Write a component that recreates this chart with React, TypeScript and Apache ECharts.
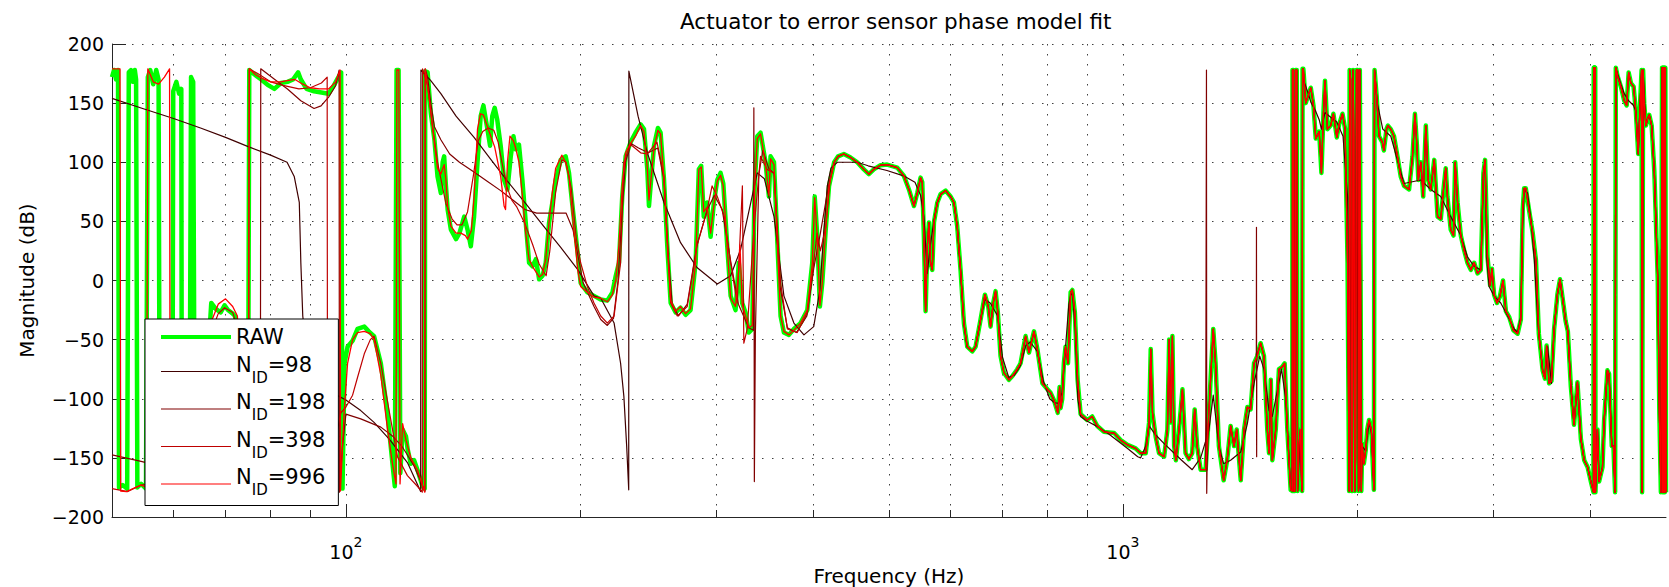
import React, { useEffect, useRef } from "react";
import * as echarts from "echarts";

type Pt = [number, number];

const FONT = "'DejaVu Sans', sans-serif";

// ---- axes ----
const X_MIN = 50;
const X_MAX = 5000;
const Y_MIN = -200;
const Y_MAX = 200;
const Y_STEP = 50;
const X_GRID_TICKS = [60, 70, 80, 90, 100, 200, 300, 400, 500, 600, 700, 800, 900, 1000, 2000, 3000, 4000];
const X_LABEL_TICKS = [100, 1000];

// ---- series meta ----
const SERIES_NAMES = ["RAW", "N_ID=98", "N_ID=198", "N_ID=398", "N_ID=996"];
const SERIES_COLORS = ["#00ff00", "#400000", "#800000", "#bf0000", "#ff0000"];

// ---- data: [frequency Hz, phase deg] ----
const RAW_LOW: Pt[] = [
  [50, 172], [50.3, 178], [50.6, 170], [50.9, 178], [51.05, -175], [51.6, -173], [52.3, -176], [52.55, 176], [52.9, 178], [53.2, 168], [53.5, 178], [53.7, 170], [53.9, -175], [54.5, -172], [55.3, -176], [55.6, 172], [56.0, 178], [56.5, 166], [57.0, 178], [57.4, 170], [57.6, -175], [59.0, -174], [59.8, -175], [59.95, 160], [60.5, 168], [61.0, 158], [61.4, 162], [61.5, -175], [62.9, -175], [63.2, 172], [63.6, 168], [63.9, -175],
  [65, -165], [66, -120], [66.8, -40], [67.1, -19], [68, -24], [69, -27], [69.8, -21], [70.5, -25], [71.5, -28], [72, -30], [72.8, -80], [73.8, -150], [74.8, -177], [75.1, 178],
  [76, 175], [77.8, 170], [79.5, 165], [80.9, 162], [82.5, 167], [84.1, 168], [85.5, 170], [86.8, 176], [87.5, 170], [89, 162], [91, 160], [93, 159], [95, 158], [96.5, 165], [97.8, 172], [98.6, 176], [99.0, -176],
  [99.6, -70], [100.5, -56], [102, -51], [103.5, -41], [105.6, -39], [107, -43], [108.7, -47], [110.9, -70], [113.1, -112], [114.8, -155], [115.6, -174], [116.2, 178], [116.9, 178], [117.5, -163], [118.3, -126], [119.5, -132], [120.1, -143], [121.2, -155], [122.4, -152], [123.6, -160], [125.5, -174], [126.3, -176], [126.5, 177],
  [127.4, 176], [128.6, 142], [130, 119], [131.2, 88], [132.5, 74], [133.2, 100], [133.8, 105], [134.5, 80], [135.2, 60], [136.5, 43], [138.6, 35], [140, 40], [142, 54], [143.4, 43], [144.8, 29], [146.2, 54], [147.7, 100], [149.1, 139], [150.3, 148], [152.1, 128], [153.3, 114], [154.3, 139], [155.4, 146], [156.6, 136], [158.2, 114], [159.8, 85], [161.4, 77], [163, 105], [164.3, 122], [165.4, 111], [167, 115], [168.7, 85], [170.4, 49], [172.1, 15], [173.8, 12], [175.6, 18], [177.3, 1], [179.1, 4], [180.8, 15], [182.6, 49], [184.4, 66], [186.2, 85], [189, 102], [191.8, 105], [193.7, 91], [195.7, 63], [198.9, 21], [200.5, -2], [204.5, -10], [208.6, -13], [212.8, -16],
  [217, -17], [220.3, -10], [222.5, 4], [224.6, 15], [226.8, 71], [229.1, 105], [232.5, 117], [235.9, 125], [239.5, 132], [241.9, 128], [244.3, 94], [245.5, 63], [246.7, 80], [249.2, 114], [252.1, 129], [254.1, 125], [256.7, 85], [259.2, 29], [261.8, -19], [265.7, -27], [269.6, -23], [273.6, -29], [277.7, -25], [281.9, 15], [284.6, 94], [286.6, 97], [288.8, 54], [291.7, 66], [294.7, 37], [297.6, 66], [300.6, 85], [303.5, 91], [306, 82], [309.6, 29], [312.7, -13], [317.3, -25], [320.4, 15], [323.6, -19], [326.8, -27], [330.1, -44], [333.4, -41], [335.7, 77], [338.4, 122], [341.7, 125], [344.5, 111], [346.8, 100], [350.3, 71], [352, 105], [355.6, 100], [359.2, 32], [362.6, -30], [366.2, -44], [371.7, -46], [377.2, -41], [384.7, -36], [392.5, -25], [398.3, 15], [401.2, 71], [404.3, 37], [407.4, -22], [410.3, -2], [414.5, 43], [418.6, 80], [425, 100], [430, 105],
];

// high-frequency track that RAW and the 198/398/996 fits all follow
const HIGH_COMMON: Pt[] = [
  [437.4, 107], [446.2, 104], [455.1, 100], [464.1, 94], [471, 90], [478, 94], [487.6, 97.5], [497.3, 98], [512.4, 95.5], [522.6, 88.5], [530.4, 77], [538.4, 63], [543.7, 74], [549, 87], [551.8, 83], [554.5, 37], [557.3, -26], [560.1, 29], [562.8, 49], [565.5, 15], [568.4, 9], [571.2, 49], [577, 66], [582.6, 73], [591.4, 76], [600.1, 71], [606.1, 66], [612, 46], [618.1, 9], [624.3, -36], [630.5, -56], [639.9, -60], [646.3, -56], [655.9, -33], [664.4, -12], [671, -22], [675.6, -39], [681, -19], [685.7, -9], [690.3, -27], [695.9, -64], [702.8, -78], [713.4, -84], [720.5, -81], [731.3, -75], [738.4, -70], [749.5, -47], [757, -61], [768.4, -43], [776.1, -58], [787.8, -87], [799.6, -92], [807.1, -95], [815, -101], [824.5, -112], [829, -90], [831.4, -108], [835.5, -100], [839.5, -70], [843.7, -56], [849.8, -70], [856.5, -10], [860.9, -8], [867.3, -27], [874.4, -84], [882.2, -113],
  [899.6, -118], [913.1, -115], [926.9, -123], [945.5, -128], [974.3, -129], [993.4, -135], [1013.7, -139], [1038.3, -142], [1054, -146], [1070, -146], [1080.8, -120], [1086, -58], [1091.7, -112], [1102, -132], [1113, -146], [1130, -149], [1141, -126], [1147, -50], [1152, -120], [1158, -47], [1164, -140], [1170, -152], [1181, -126], [1193, -92], [1204, -146], [1216, -151], [1228, -146], [1237, -109], [1246, -140], [1259, -160], [1278, -160], [1290, -112], [1307, -41], [1316, -70], [1329, -140], [1348, -169], [1362, -152], [1376, -123], [1390, -140], [1401, -126], [1418, -169], [1432, -126], [1446, -107], [1460, -109], [1475, -70], [1489, -64], [1504, -53], [1519, -64], [1534, -126], [1542, -146], [1550, -84], [1557, -152], [1573, -126], [1588, -75], [1604, -73], [1615, -70], [1628, -126], [1644, -177],
  [1652, -178], [1653, 178], [1658, 178], [1660, -178], [1665, -178], [1668, 178], [1674, 178], [1678, -178], [1685, -140], [1692, -126], [1698, -170], [1701, -178], [1703, 179],
  [1707, 179], [1719, 150], [1731, 156], [1745, 163], [1759, 148], [1771, 120], [1789, 126], [1801, 91], [1812, 142], [1820, 169], [1833, 128], [1851, 131], [1866, 141], [1885, 121], [1898, 132], [1917, 141], [1932, 128], [1946, 15],
  [1955, -178], [1958, 178], [1964, 170], [1969, -178], [1974, -178], [1978, 178], [1983, 120], [1988, -178], [1993, -150], [1998, 178], [2007, 178], [2010, -178], [2016, -170], [2018, 178], [2022, 178], [2027, -178], [2032, -138], [2042, -155], [2053, -144], [2063, -126], [2074, -118], [2088, -126], [2104, -177], [2108, 178],
  [2121, 156], [2136, 122], [2157, 117], [2167, 110], [2184, 128], [2193, 131], [2212, 128], [2233, 122], [2256, 105], [2278, 88], [2301, 80], [2335, 77], [2359, 105], [2376, 141], [2390, 114], [2400, 85], [2418, 100], [2435, 71], [2454, 131], [2471, 85], [2490, 77], [2516, 102], [2541, 54], [2565, 52], [2586, 77], [2603, 95], [2616, 71], [2642, 43], [2664, 38], [2677, 100], [2696, 66], [2722, 38], [2748, 26], [2776, 15], [2804, 9], [2832, 15], [2860, 6], [2888, 9], [2911, 91], [2925, 102], [2946, 20], [2969, -4], [2985, 10], [3004, -12], [3030, -19], [3055, -14], [3085, 0], [3111, -26], [3142, -31], [3180, -42], [3221, -45], [3252, -33], [3270, 60], [3284, 78], [3300, 78], [3333, 59], [3367, 41], [3401, 17], [3430, -45], [3469, -76], [3493, -83], [3510, -55], [3536, -87], [3561, -85], [3589, -41], [3624, -12], [3652, 1], [3677, -13], [3713, -34], [3738, -43], [3771, -89], [3807, -122], [3846, -86], [3885, -134], [3924, -152], [3964, -158], [4002, -170],
  [4033, -179], [4036, 180], [4039, -179], [4042, 180], [4045, -179], [4048, 180], [4051, -179], [4054, 180], [4057, -179], [4081, -126], [4101, -170], [4142, -158], [4162, -119], [4203, -76], [4224, -79], [4258, -140], [4279, -140], [4300, -179], [4309, 180],
  [4331, 173], [4374, 164], [4418, 152], [4450, 148], [4476, 176], [4506, 167], [4542, 164], [4573, 143], [4605, 107], [4632, 152], [4651, 178], [4658, -179], [4665, -179], [4672, 178], [4687, 150], [4711, 131], [4735, 137], [4758, 140], [4792, 131], [4830, 92], [4879, 2], [4903, -113], [4925, -179],
  [4942, 180], [4950, -179], [4958, 180], [4966, -179], [4974, 180], [4982, -179], [4990, 180], [5000, -179],
];

const FIT_98: Pt[] = [
  [50, 154], [55, 145], [60, 137], [65, 129], [70, 121], [75, 113], [80, 106], [84, 100], [85.8, 88], [87.1, 66], [87.5, 15], [88, -30], [89, -60], [91, -80], [95, -92], [98, -98], [100, -101], [104.5, -110], [108.7, -120], [114, -135], [120, -154], [124.8, -178.5], [124.9, 178],
  [128.6, 169], [132.5, 158], [138.6, 139], [146.2, 121], [153.8, 102], [161.4, 84], [170.4, 65], [179.1, 47], [189, 28], [198.9, 9], [208.6, -13], [212.8, -15], [221.4, -36], [225.7, -70], [227.9, -98], [229.8, -140], [231.2, -177], [231.3, 177],
  [237.7, 139], [244.3, 108], [256.7, 66], [269.6, 32], [283, 11], [300.6, -3], [312.7, 4], [322, 26], [332, 66], [338.4, 91], [345.6, 86], [355.6, 54], [366.2, -13], [377.2, -36], [388.6, -46], [400, -39], [407.4, -8], [412, 40], [416.5, 80], [421, 95], [429, 100],
  [446, 100], [455, 100], [470, 97], [497, 93], [522, 88.5], [540, 83], [549, 72], [554.5, 54], [560, 6], [565, 29], [571, 50], [577, 66], [583, 73], [591, 76], [600, 71], [606, 66], [612, 46], [618, 9], [624, -36], [630, -56], [640, -60], [646, -56], [656, -33], [664, -16], [675, -19], [690, -30], [700, -65], [713, -82], [725, -80], [738, -72], [750, -55], [760, -52], [776, -60], [790, -85], [805, -100], [815, -103], [825, -104], [835, -95], [844, -55], [852, -20], [857, -12], [861, -11], [868, -40], [875, -100], [882, -115],
  [900, -119], [930, -124], [960, -130], [1014, -142], [1045, -149], [1054, -150], [1070, -140], [1081, -123], [1100, -130], [1130, -138], [1160, -145], [1190, -152], [1228, -160], [1259, -150], [1290, -127], [1307, -97], [1329, -140], [1348, -155], [1376, -152], [1418, -145], [1446, -121], [1475, -87], [1500, -64], [1519, -75], [1542, -110], [1557, -115], [1573, -100], [1600, -75], [1620, -100], [1644, -177],
  [1652, -178], [1653, 178], [1658, 178], [1660, -178], [1665, -178], [1668, 178], [1674, 178], [1678, -178], [1690, -135], [1701, -178], [1703, 179],
  [1707, 170], [1728, 160], [1745, 151], [1771, 143], [1789, 136], [1801, 128], [1820, 142], [1851, 138], [1885, 134], [1920, 122], [1946, 71],
  [1955, -178], [1958, 178], [1969, -178], [1978, 178], [1988, -178], [1998, 178], [2010, -178], [2018, 178], [2027, -178], [2032, -140], [2053, -144], [2074, -120], [2090, -130], [2104, -177], [2108, 178],
  [2125, 150], [2160, 128], [2212, 122], [2300, 82], [2418, 85], [2490, 77], [2565, 71], [2642, 54], [2722, 38], [2776, 20], [2832, 12], [2888, 9], [2911, 91], [2925, 100], [2940, 18], [2960, -5], [3004, -13], [3064, -19], [3111, -27], [3189, -41], [3221, -44], [3252, -30], [3268, 43], [3284, 77], [3317, 74], [3350, 52], [3384, 18], [3425, -41], [3469, -76], [3493, -83], [3520, -56], [3561, -87], [3589, -41], [3624, -12], [3652, 1], [3677, -13], [3713, -34], [3738, -43], [3771, -89], [3807, -122], [3846, -86], [3885, -134], [3924, -152], [3964, -158], [4002, -170],
  [4033, -179], [4036, 180], [4054, 180], [4057, -179], [4081, -126], [4101, -170], [4142, -158], [4162, -119], [4203, -76], [4224, -79], [4258, -140], [4279, -140], [4300, -179], [4309, 180],
  [4331, 175], [4374, 166], [4418, 158], [4476, 152], [4542, 148], [4573, 143], [4605, 107], [4632, 152], [4651, 178], [4658, -179], [4665, -179], [4672, 178], [4711, 131], [4735, 137], [4758, 140], [4792, 131], [4830, 92], [4879, 2], [4903, -113], [4925, -179], [4942, 180], [4960, 180], [4970, -179], [4985, -179], [4995, 180], [5000, 180],
];

const LOW_198: Pt[] = [
  [50, -147.5], [54.5, -153], [60, -160], [66, -167], [72, -173], [77.6, -179], [77.7, 179], [81, 170], [84.1, 162], [87.5, 152], [91, 145.5], [92.9, 147.7], [95, 155], [97, 164.7], [98, 178], [98.1, -179],
  [99, -140], [100, -113], [104.5, -117], [110.9, -124], [115, -132], [118, -140], [120.1, -148], [122.4, -157], [124.5, -168], [126.4, -178.5], [126.5, 179],
  [127.4, 172], [128.6, 150], [130, 130], [132.5, 119], [136, 107], [140, 100], [146, 92], [152, 84], [158.2, 76], [164, 68], [170, 60], [176, 57], [184, 57], [192, 57], [196, 43], [202, -2], [208.6, -22], [212.8, -33],
  [217, -38], [221, -32], [224, 0], [226.8, 60], [229, 100], [232.5, 116], [238, 112], [245, 108], [252, 112], [256.7, 85], [260, 20], [263, -20], [268, -30], [275, -20], [283, 30], [292, 60], [298, 72], [305, 60], [313, 15], [320, -20], [330, -40], [334.5, -42], [335, 146], [335.5, -170], [336.5, -45], [340, 90], [344, 110], [350, 95], [356, 90], [362, -5], [370, -40], [380, -44], [392, -30], [400, 10], [408, 40], [418, 80], [425, 100], [430, 105],
];
const SPIKES_198: Pt[] = [
  [1280, -160], [1281, 178], [1282, -180], [1283.5, -156], [1485, -66], [1485.6, 45], [1486.4, -149], [1487, -64],
];

const LOW_398: Pt[] = [
  [50, -176], [52.4, -178.5], [54.5, -173], [58, -170], [62, -150], [65, -100], [67, -45], [68.5, -28], [69.8, -23], [71.5, -27], [72.5, -40], [73.5, -110], [74.9, -178], [75.1, 179],
  [77, 175], [80, 168], [83, 165], [87, 162], [90, 163], [93, 167], [94.6, 172], [94.7, -178],
  [96, -150], [98.5, -112], [100, -107], [102, -97], [103.5, -82], [105.6, -62], [107.5, -50], [108.7, -47], [110.9, -70], [113.8, -112], [116.5, -149], [120, -165], [123.6, -174], [125.4, -179], [125.5, 179],
  [127.4, 165], [129, 135], [131.2, 100], [134.5, 65], [137, 52], [139, 47], [141, 47], [143.4, 58], [146, 90], [148, 118], [150, 126], [152.5, 129], [155, 127], [157, 117], [159, 98], [161, 80], [163.5, 68], [166, 62], [170, 48], [174, 30], [177.3, 14], [181, 4], [183, 25], [186.2, 75], [189.6, 102], [192, 100], [195, 78], [198, 35], [200.5, 15], [204.5, -5], [208.6, -19], [212.8, -30],
  [217, -36], [221.4, -30], [225.7, 15], [227.9, 100], [232.5, 115], [239.5, 108], [244.3, 107], [251.4, 117], [256.7, 88], [261.8, -19], [267, -30], [275, -22], [283, 29], [291.7, 60], [296, 80], [300.6, 71], [306.9, 54], [312.7, 15], [318.8, -19], [323.3, 70], [323.8, 80], [325.2, -53], [328.5, -41], [335, 43], [341.7, 105], [348.3, 94], [355.6, 91], [362.6, -2], [370, -41], [381, -44], [392.5, -27], [400, 15], [404, 40], [408, 25], [414.5, 45], [420, 85], [425, 100], [430, 105],
];

const LOW_996: Pt[] = [
  [50, 179], [51.2, 179], [51.3, -178], [52.2, -178.5], [53.2, -176], [54.5, -173], [55.4, -175], [55.6, 179], [56.5, 168], [57.4, 166], [58.4, 172], [59.3, 179], [59.4, -178], [62, -176], [64.5, -172], [66, -120], [67, -36], [68.5, -20], [70, -15.5], [71.5, -22], [72.5, -30], [73.5, -100], [74.9, -178], [75.1, 179],
  [76.5, 174], [78, 171], [80, 168], [82.5, 168], [84, 169], [86, 170], [88, 166], [90, 163], [92.5, 162], [95, 162], [97, 168], [98.3, 178], [98.4, -178],
  [99.5, -110], [100.5, -70], [102, -50], [103.5, -44], [105.6, -43], [107.5, -45], [108.7, -50], [110.9, -80], [113.1, -125], [114.8, -155], [116, -172], [116.3, 178], [117, 178], [117.4, -172], [118.3, -121], [119.5, -135], [121.2, -150], [123.6, -160], [126.3, -179], [126.5, 179],
  [127.9, 156], [129.5, 125], [131.2, 95], [132.5, 90], [133.8, 98], [134.5, 85], [135.2, 62], [136.5, 46], [138.6, 40], [140.6, 40], [142.5, 38], [143.4, 35], [145, 42], [146.2, 70], [147.7, 128], [149, 141], [150.3, 140], [152.1, 130], [155.4, 113], [158.2, 88], [159.8, 63], [160.5, 60], [161.4, 100], [162.6, 122], [164.3, 118], [165.4, 112], [167, 100], [168.7, 72], [170.4, 40], [172.1, 18], [173.8, 12], [177.3, 3], [179.1, 5], [180.8, 18], [182.6, 50], [184.4, 75], [186.2, 95], [189.6, 106], [191.8, 100], [193.7, 88], [195.7, 55], [198.9, 8], [200.5, -5], [204.5, -10], [208.6, -14], [212.8, -15],
  [217, -18], [220.3, -12], [222.5, 0], [224.6, 30], [226.8, 80], [229.1, 108], [232.5, 116], [235.9, 122], [239.5, 131], [241.9, 126], [244.3, 95], [245.5, 68], [246.7, 82], [249.2, 112], [252.1, 127], [254.1, 124], [256.7, 85], [259.2, 30], [261.8, -17], [265.7, -26], [269.6, -22], [273.6, -28], [277.7, -24], [281.9, 15], [284.6, 94], [286.6, 96], [288.8, 58], [291.7, 62], [294.7, 40], [297.6, 64], [300.6, 84], [303.5, 89], [306, 80], [309.6, 28], [312.7, -15], [317.3, -22], [320.4, 10], [321.5, 30], [323.6, -20], [326.8, -30], [330.1, -40], [333.4, -38], [335.7, 76], [338.4, 120], [341.7, 124], [344.5, 110], [346.8, 98], [350.3, 72], [352, 103], [355.6, 98], [359.2, 30], [362.6, -30], [366.2, -43], [371.7, -46], [377.2, -42], [384.7, -36], [392.5, -25], [398.3, 14], [401.2, 70], [404.3, 36], [407.4, -21], [410.3, -2], [414.5, 43], [418.6, 80], [425, 100], [430, 105],
];

const byFreq = (a: Pt, b: Pt) => a[0] - b[0];

export default function App() {
  const ref = useRef<HTMLDivElement>(null);

  useEffect(() => {
    document.body.style.margin = "0";
    const el = ref.current;
    if (!el) return;
    const chart = echarts.init(el, null, { renderer: "svg" });

    const seriesData: Pt[][] = [
      [...RAW_LOW, ...HIGH_COMMON],
      FIT_98,
      [...LOW_198, ...HIGH_COMMON, ...SPIKES_198].sort(byFreq),
      [...LOW_398, ...HIGH_COMMON],
      [...LOW_996, ...HIGH_COMMON],
    ];
    const widths = [4.5, 1.2, 1.2, 1.2, 1.3];

    const axisColor = "#262626";
    const gridLine = { color: "#404040", width: 1, type: [1.5, 8.5] };

    const option: any = {
      animation: false,
      backgroundColor: "#ffffff",
      title: {
        text: "Actuator to error sensor phase model fit",
        left: 680,
        top: 10,
        padding: 0,
        textStyle: { fontFamily: FONT, fontSize: 21.5, fontWeight: "normal", color: "#000" },
      },
      grid: { left: 112, right: 3, top: 44, bottom: 70, containLabel: false, outerBoundsMode: "none" },
      legend: {
        orient: "vertical",
        left: 145,
        top: 319,
        padding: [7.5, 13, 8, 14],
        itemWidth: 70,
        itemHeight: 14,
        itemGap: 6.5,
        backgroundColor: "#ffffff",
        borderColor: "#000000",
        borderWidth: 1,
        borderRadius: 0,
        selectedMode: false,
        data: SERIES_NAMES.map((n, i) => ({
          name: n,
          lineStyle: { width: i === 0 ? 4 : 1.2, color: SERIES_COLORS[i] },
          itemStyle: { opacity: 0 },
        })),
        formatter: (name: string) => {
          if (name === "RAW") return "{r|RAW}";
          const num = name.split("=")[1];
          return `{n|N}{s|ID}{n|=${num}}`;
        },
        textStyle: {
          fontFamily: FONT,
          fontSize: 21,
          color: "#000",
          rich: {
            r: { fontFamily: FONT, fontSize: 21, color: "#000" },
            n: { fontFamily: FONT, fontSize: 21, color: "#000", verticalAlign: "top" },
            s: { fontFamily: FONT, fontSize: 15, color: "#000", verticalAlign: "bottom", padding: [16, 0, 4, 0] },
          },
        },
      },
      xAxis: [
        {
          type: "log",
          logBase: 10,
          min: X_MIN,
          max: X_MAX,
          position: "bottom",
          name: "Frequency (Hz)",
          nameLocation: "middle",
          nameGap: 49,
          nameTextStyle: { fontFamily: FONT, fontSize: 20, color: "#000" },
          axisLine: { show: true, onZero: false, lineStyle: { color: axisColor, width: 1 } },
          axisTick: { show: true, inside: true, length: 7, customValues: X_GRID_TICKS, lineStyle: { color: axisColor } },
          minorTick: { show: false },
          splitLine: { show: true, lineStyle: gridLine },
          axisLabel: {
            customValues: X_LABEL_TICKS,
            margin: 18,
            color: "#000",
            formatter: (v: number) => `{b|10}{p|${Math.round(Math.log10(v))}}`,
            rich: {
              b: { fontFamily: FONT, fontSize: 19, color: "#000", verticalAlign: "bottom" },
              p: { fontFamily: FONT, fontSize: 14, color: "#000", verticalAlign: "top", padding: [0, 0, 12, 0] },
            },
          },
        },
        {
          type: "log",
          logBase: 10,
          min: X_MIN,
          max: X_MAX,
          position: "bottom",
          axisLine: { show: false, onZero: false },
          axisTick: { show: true, inside: true, length: 13, customValues: X_LABEL_TICKS, lineStyle: { color: axisColor } },
          axisLabel: { show: false },
          splitLine: { show: false },
        },
      ],
      yAxis: {
        type: "value",
        min: Y_MIN,
        max: Y_MAX,
        interval: Y_STEP,
        position: "left",
        name: "Magnitude (dB)",
        nameLocation: "middle",
        nameGap: 75,
        nameTextStyle: { fontFamily: FONT, fontSize: 20, color: "#000" },
        axisLine: { show: true, onZero: false, lineStyle: { color: axisColor, width: 1 } },
        axisTick: { show: true, inside: true, length: 14, lineStyle: { color: axisColor } },
        splitLine: { show: true, lineStyle: gridLine },
        axisLabel: {
          fontFamily: FONT,
          fontSize: 19,
          color: "#000",
          margin: 8,
          padding: [5, 0, 0, 0],
          formatter: (v: number) => (v < 0 ? "\u2212" + Math.abs(v) : String(v)),
        },
      },
      series: SERIES_NAMES.map((name, i) => ({
        name,
        type: "line",
        xAxisIndex: 0,
        yAxisIndex: 0,
        data: seriesData[i],
        symbol: "none",
        showSymbol: false,
        silent: true,
        clip: true,
        lineStyle: { color: SERIES_COLORS[i], width: widths[i], join: "round" },
        itemStyle: { color: SERIES_COLORS[i] },
        emphasis: { disabled: true },
      })),
    };

    chart.setOption(option);
    return () => chart.dispose();
  }, []);

  return <div ref={ref} style={{ width: 1669, height: 587 }} />;
}
